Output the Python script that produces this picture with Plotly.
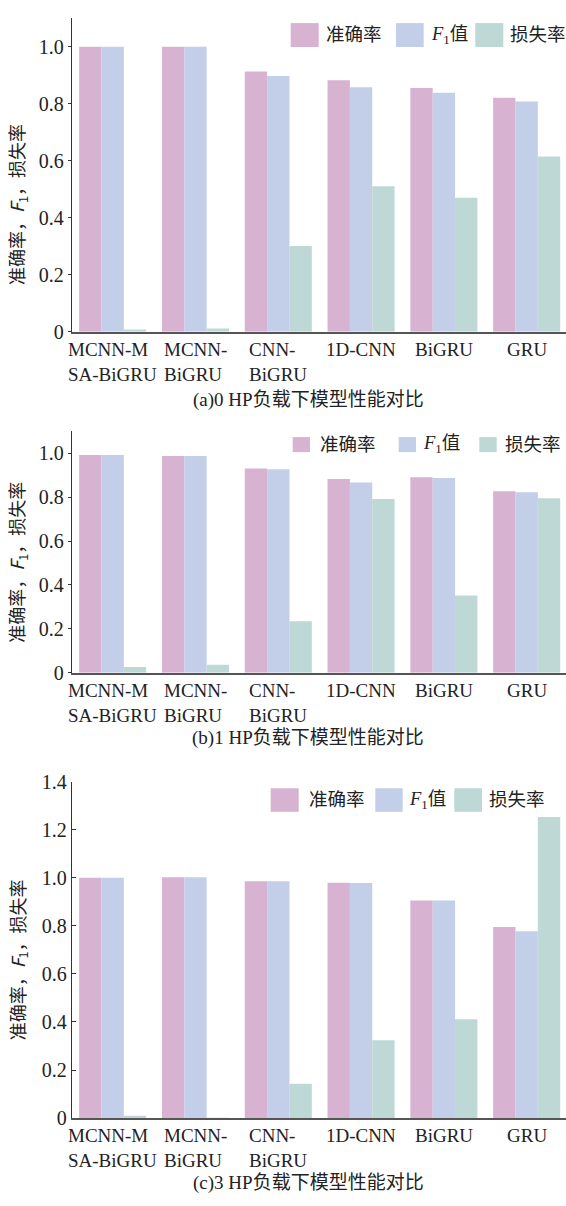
import plotly.graph_objects as go

# Models compared under each motor load
models = ["MCNN-M<br>SA-BiGRU", "MCNN-<br>BiGRU", "CNN-<br>BiGRU", "1D-CNN", "BiGRU", "GRU"]
series_names = ["准确率", "<i>F</i><sub>1</sub>值", "损失率"]
series_colors = ["#D7B3D1", "#C3CEE8", "#BDD8D5"]

# (a) 0 HP load
acc_0hp = [1.000, 1.000, 0.913, 0.882, 0.855, 0.821]
f1_0hp = [1.000, 1.000, 0.897, 0.858, 0.838, 0.808]
loss_0hp = [0.008, 0.011, 0.301, 0.510, 0.470, 0.615]

# (b) 1 HP load
acc_1hp = [0.993, 0.988, 0.931, 0.883, 0.891, 0.828]
f1_1hp = [0.993, 0.988, 0.928, 0.867, 0.888, 0.823]
loss_1hp = [0.026, 0.036, 0.235, 0.792, 0.352, 0.796]

# (c) 3 HP load
acc_3hp = [1.000, 1.002, 0.986, 0.979, 0.906, 0.795]
f1_3hp = [1.000, 1.002, 0.986, 0.978, 0.906, 0.778]
loss_3hp = [0.010, 0.001, 0.143, 0.324, 0.411, 1.253]

captions = ["(a)0 HP负载下模型性能对比", "(b)1 HP负载下模型性能对比", "(c)3 HP负载下模型性能对比"]
y_title = "准确率，<i>F</i><sub>1</sub>，损失率"

W, H = 566, 1206
SERIF = "Liberation Serif, Noto Sans CJK SC, serif"
CJK = "Noto Sans CJK SC, sans-serif"


def px(p):
    return p / W


def py(p):
    return 1 - p / H


panels = [
    dict(data=[acc_0hp, f1_0hp, loss_0hp], top=7.3, base=326.7, ymax=1.1,
         ticks=[0, 0.2, 0.4, 0.6, 0.8, 1.0], ylab=197.5, cap=396.7,
         leg=dict(y0=12.3, y1=36.7, sq=[(290.7, 318.7), (396.0, 423.7), (475.3, 503.3)],
                  tx=[323.7, 428.7, 508.3])),
    dict(data=[acc_1hp, f1_1hp, loss_1hp], top=428.3, base=674.0, ymax=1.1,
         ticks=[0, 0.2, 0.4, 0.6, 0.8, 1.0], ylab=562.0, cap=740.0,
         leg=dict(y0=434.0, y1=449.3, sq=[(292.7, 310.0), (398.7, 416.0), (479.3, 496.7)],
                  tx=[317.7, 421.0, 502.7])),
    dict(data=[acc_3hp, f1_3hp, loss_3hp], top=785.0, base=1127.7, ymax=1.4,
         ticks=[0, 0.2, 0.4, 0.6, 0.8, 1.0, 1.2, 1.4], ylab=967.0, cap=1193.3,
         leg=dict(y0=791.7, y1=815.7, sq=[(270.7, 298.7), (375.3, 402.7), (454.3, 482.0)],
                  tx=[306.7, 406.7, 486.7])),
]

fig = go.Figure()
shapes = []
annotations = []

for i, p in enumerate(panels):
    sfx = "" if i == 0 else str(i + 1)
    xa, ya = "x" + sfx, "y" + sfx
    for vals, name, color in zip(p["data"], series_names, series_colors):
        fig.add_trace(go.Bar(x=models, y=vals, name=name, xaxis=xa, yaxis=ya,
                             marker=dict(color=color, line=dict(width=0)),
                             showlegend=False))

    fig.layout["xaxis" + sfx] = dict(
        domain=[px(71.7), 1.0], anchor=ya, type="category",
        range=[-0.495, 5.475], showticklabels=False, ticks="",
        showline=True, linewidth=2, linecolor="#555555", showgrid=False, zeroline=False)
    fig.layout["yaxis" + sfx] = dict(
        domain=[py(p["base"]), py(p["top"])], anchor=xa,
        range=[0, p["ymax"]], tickvals=p["ticks"],
        ticktext=["0" if t == 0 else f"{t:.1f}" for t in p["ticks"]],
        ticks="inside" if i == 2 else "outside", ticklen=4 if i == 2 else 3,
        tickcolor="#333333", tickwidth=1,
        showline=True, linewidth=1, linecolor="#333333", showgrid=False, zeroline=False,
        tickfont=dict(family=SERIF, size=20, color="#222222"))

    # category labels under each group
    for m in models:
        annotations.append(dict(x=m, y=0, xref=xa, yref=ya, text=m, showarrow=False,
                                xanchor="center", yanchor="top", align="left", yshift=-5,
                                font=dict(family=SERIF, size=19, color="#222222")))

    # vertical axis title
    annotations.append(dict(x=px(18), y=py(p["ylab"]), xref="paper", yref="paper",
                            text=y_title, textangle=-90, showarrow=False,
                            xanchor="center", yanchor="middle",
                            font=dict(family=CJK, size=18, color="#222222")))

    # caption
    annotations.append(dict(x=px(308), y=py(p["cap"]), xref="paper", yref="paper",
                            text=captions[i], showarrow=False, xanchor="center", yanchor="middle",
                            font=dict(family=SERIF, size=19, color="#222222")))

    # legend
    lg = p["leg"]
    yc = (lg["y0"] + lg["y1"]) / 2
    for (x0, x1), tx, name, color in zip(lg["sq"], lg["tx"], series_names, series_colors):
        shapes.append(dict(type="rect", xref="paper", yref="paper",
                           x0=px(x0), x1=px(x1), y0=py(lg["y1"]), y1=py(lg["y0"]),
                           fillcolor=color, line=dict(width=0)))
        annotations.append(dict(x=px(tx), y=py(yc), xref="paper", yref="paper", text=name,
                                showarrow=False, xanchor="left", yanchor="middle",
                                font=dict(family=SERIF, size=18.5, color="#222222")))

fig.update_layout(
    width=W, height=H, margin=dict(l=0, r=0, t=0, b=0),
    paper_bgcolor="white", plot_bgcolor="white",
    barmode="group", bargap=0.19, bargroupgap=0,
    shapes=shapes, annotations=annotations,
)

fig.write_html("out.html")
